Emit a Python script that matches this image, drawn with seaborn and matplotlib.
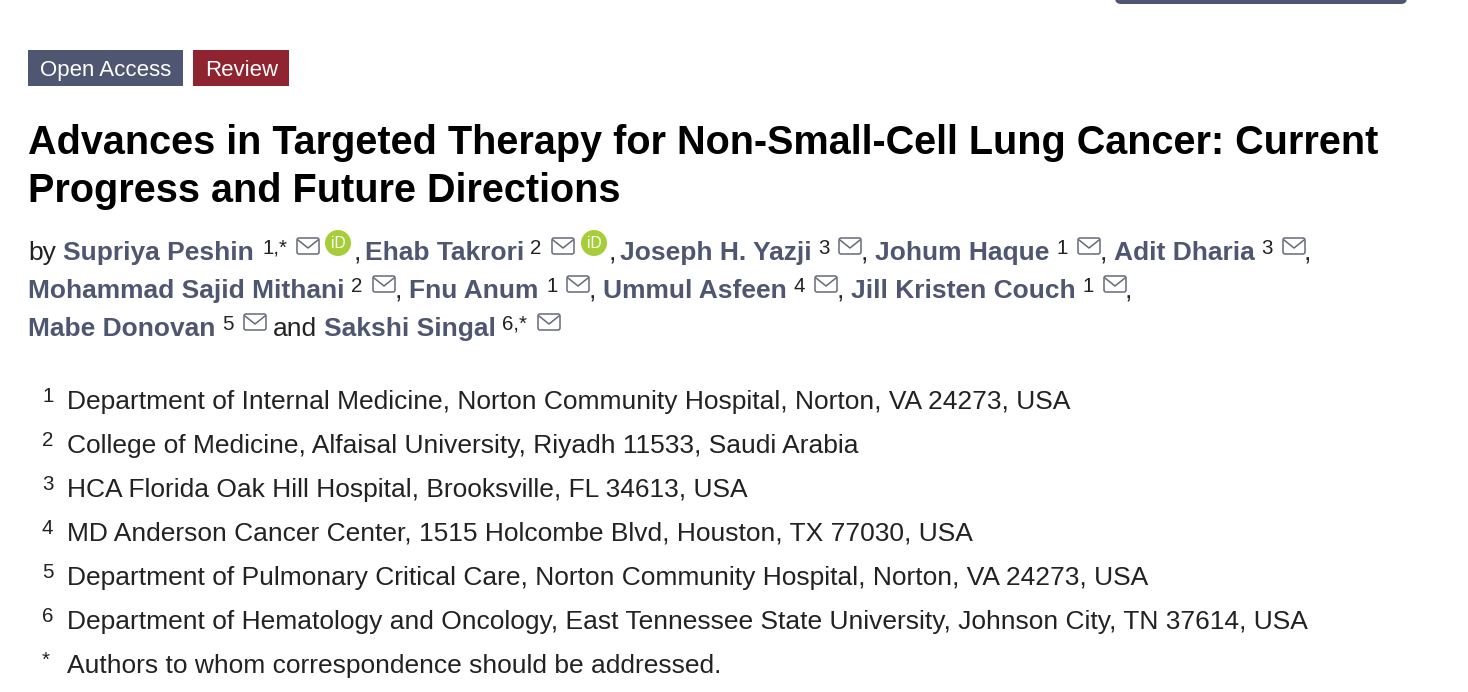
import matplotlib
matplotlib.use("Agg")
import matplotlib.pyplot as plt
from matplotlib.patches import Circle, FancyBboxPatch, Rectangle
import seaborn as sns

# text content
badges = ["Open Access", "Review"]
title_lines = ["Advances in Targeted Therapy for Non-Small-Cell Lung Cancer: Current",
               "Progress and Future Directions"]
authors = ["Supriya Peshin", "Ehab Takrori", "Joseph H. Yazji", "Johum Haque", "Adit Dharia",
           "Mohammad Sajid Mithani", "Fnu Anum", "Ummul Asfeen", "Jill Kristen Couch",
           "Mabe Donovan", "Sakshi Singal"]
author_refs = ["1,*", "2", "3", "1", "3", "2", "1", "4", "1", "5", "6,*"]
aff_marks = ["1", "2", "3", "4", "5", "6", "*"]
affiliations = ["Department of Internal Medicine, Norton Community Hospital, Norton, VA 24273, USA",
                "College of Medicine, Alfaisal University, Riyadh 11533, Saudi Arabia",
                "HCA Florida Oak Hill Hospital, Brooksville, FL 34613, USA",
                "MD Anderson Cancer Center, 1515 Holcombe Blvd, Houston, TX 77030, USA",
                "Department of Pulmonary Critical Care, Norton Community Hospital, Norton, VA 24273, USA",
                "Department of Hematology and Oncology, East Tennessee State University, Johnson City, TN 37614, USA",
                "Authors to whom correspondence should be addressed."]

# layout in page pixels
author_x = [63, 365, 620, 875, 1114, 28, 409, 603, 851, 28, 324]
author_y = [260, 260, 260, 260, 260, 298, 298, 298, 298, 336, 336]
ref_x = [262, 530, 818, 1057, 1261, 351, 546, 794, 1083, 222, 502]
env_x = [297, 552, 839, 1078, 1283, 373, 567, 815, 1104, 244, 538]
orcid_x = [338, 594]
comma_x = [357, 612, 864, 1103, 1307, 398, 592, 840, 1128]
comma_y = [260, 260, 260, 260, 260, 298, 298, 298, 298]
aff_y = [409, 453, 497, 541, 585, 629, 673]

slate = "#4f5671"
red = "#8f2430"
text_col = "#222222"
icon_col = "#666a7a"

sns.set_theme(style="white")
plt.rcParams["font.family"] = ["Liberation Sans", "DejaVu Sans"]


def px(size):
    return size * 0.72


fig, ax = plt.subplots(figsize=(14.68, 6.92), dpi=100)
ax.set_position([0, 0, 1, 1])
ax.set_xlim(0, 1468)
ax.set_ylim(692, 0)
ax.axis("off")

# bar at top of the page
ax.add_patch(FancyBboxPatch((1115, -20), 292, 24, boxstyle="round,pad=0,rounding_size=6",
                            ec="none", fc=slate))

# badges
ax.add_patch(Rectangle((28, 50), 155, 36, fc=slate, ec="none"))
ax.add_patch(Rectangle((193, 50), 96, 36, fc=red, ec="none"))
ax.text(40, 76, badges[0], color="white", fontsize=px(22.3), va="baseline")
ax.text(205, 76, badges[1], color="white", fontsize=px(22.3), va="baseline")

# title
ax.text(28, 154, title_lines[0], color="black", fontsize=px(39.6), fontweight="bold", va="baseline")
ax.text(28, 202, title_lines[1], color="black", fontsize=px(39.6), fontweight="bold", va="baseline")

# authors
ax.text(28, 260, "by", color=text_col, fontsize=px(26.4), va="baseline")
ax.text(273, 336, "and", color=text_col, fontsize=px(26.4), va="baseline")
for name, ref, x, y, rx, ex in zip(authors, author_refs, author_x, author_y, ref_x, env_x):
    ax.text(x, y, name, color=slate, fontsize=px(26.4), fontweight="bold", va="baseline")
    ax.text(rx, y - 6, ref, color=text_col, fontsize=px(20.5), va="baseline")
    # envelope icon
    top = y - 22
    ax.add_patch(FancyBboxPatch((ex, top), 22, 16, boxstyle="round,pad=0,rounding_size=2",
                                fc="none", ec=icon_col, lw=1.1))
    ax.plot([ex + 1, ex + 11, ex + 21], [top + 2, top + 10, top + 2], color=icon_col, lw=1.1)
for x, y in zip(comma_x, comma_y):
    ax.text(x, y, ",", color=text_col, fontsize=px(26.4), va="baseline", ha="center")
for x in orcid_x:
    ax.add_patch(Circle((x, 243), 13, fc="#a6ce39", ec="none"))
    ax.text(x, 243.5, "iD", color="white", fontsize=px(15.5), ha="center", va="center")

# affiliations
for mark, aff, y in zip(aff_marks, affiliations, aff_y):
    ax.text(42, y - 7, mark, color=text_col, fontsize=px(20.5), va="baseline")
    ax.text(67, y, aff, color=text_col, fontsize=px(26.37), va="baseline")

fig.savefig("out.png", dpi=100, facecolor="white")
